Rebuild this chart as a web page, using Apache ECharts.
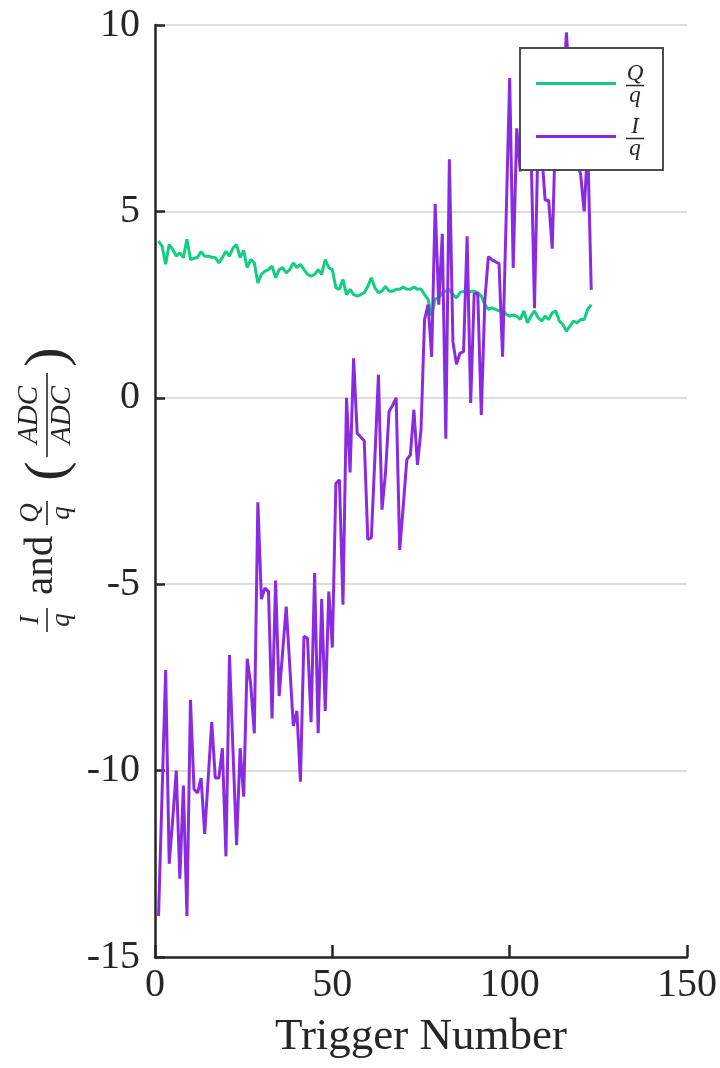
<!DOCTYPE html>
<html>
<head>
<meta charset="utf-8">
<script src="https://cdn.jsdelivr.net/npm/echarts@6/dist/echarts.min.js"></script>
<style>
  html, body { margin: 0; padding: 0; background: #fff; }
  #chart { width: 720px; height: 1068px; }
</style>
</head>
<body>
<div id="chart"></div>
<script>
// Per-trigger ratios (ADC/ADC), trigger numbers start at 1
const qOverQ = [
  4.20, 4.07, 3.58, 4.11, 3.98, 3.80, 3.89, 3.76, 4.25, 3.71,
  3.74, 3.77, 3.92, 3.80, 3.80, 3.77, 3.76, 3.62, 3.76, 3.93,
  3.80, 4.02, 4.11, 3.76, 3.95, 3.49, 3.71, 3.62, 3.08, 3.31,
  3.40, 3.44, 3.53, 3.22, 3.44, 3.49, 3.35, 3.44, 3.62, 3.49,
  3.58, 3.44, 3.31, 3.26, 3.31, 3.44, 3.31, 3.71, 3.49, 3.44,
  2.95, 2.91, 3.17, 2.77, 2.91, 2.77, 2.73, 2.77, 2.82, 2.99,
  3.22, 2.95, 2.82, 2.86, 2.99, 2.86, 2.86, 2.91, 2.91, 2.97,
  2.91, 2.91, 2.97, 2.91, 2.92, 2.77, 2.64, 2.20, 2.65, 2.68,
  2.82, 2.86, 2.91, 2.77, 2.68, 2.82, 2.86, 2.77, 2.86, 2.86,
  2.82, 2.73, 2.50, 2.37, 2.41, 2.37, 2.33, 2.37, 2.24, 2.19,
  2.22, 2.19, 2.10, 2.33, 2.01, 2.19, 2.33, 2.15, 2.06, 2.19,
  2.10, 2.28, 2.33, 2.06, 1.97, 1.79, 1.92, 2.06, 2.01, 2.10,
  2.10, 2.37, 2.50
];
const iOverQ = [
  -13.9, -10.6, -7.3, -12.5, -11.3, -10.0, -12.9, -10.4, -13.9, -8.1,
  -10.5, -10.6, -10.2, -11.7, -10.2, -8.7, -10.2, -10.2, -9.4, -12.3,
  -6.9, -9.5, -12.0, -9.4, -10.7, -7.0, -7.7, -9.0, -2.8, -5.4,
  -5.1, -5.2, -8.6, -4.9, -8.0, -6.8, -5.6, -7.2, -8.8, -8.4,
  -10.3, -6.4, -6.45, -8.7, -4.7, -9.0, -5.4, -8.4, -5.2, -6.7,
  -2.3, -2.2, -5.55, 0.0, -2.0, 1.06, -0.95, -1.05, -1.15, -3.8,
  -3.75, -1.6, 0.62, -3.0, -2.0, -0.37, -0.2, 0.0, -4.08, -2.9,
  -1.66, -1.53, -0.32, -1.8, -0.86, 2.1, 2.5, 1.1, 5.2, 2.5,
  4.4, -1.1, 6.4, 1.5, 0.9, 1.2, 1.24, 4.33, -0.14, 2.8,
  2.8, -0.46, 2.63, 3.79, 3.7, 3.65, 3.6, 1.1, 4.8, 8.58,
  3.48, 7.23, 6.07, 8.0, 9.4, 6.8, 2.4, 7.0, 6.6, 5.3,
  5.3, 4.0, 7.5, 6.8, 8.0, 9.8, 8.2, 7.0, 6.3, 6.0,
  5.0, 6.8, 2.9
];
const xTicks = [0, 50, 100, 150];
const yTicks = [-15, -10, -5, 0, 5, 10];
const firstTrigger = 1;

const SERIF = '"Liberation Serif", "DejaVu Serif", serif';
const INK = '#262626';
const GREEN = '#11cf80';
const PURPLE = '#8a2be2';

const toPairs = arr => arr.map((v, i) => [firstTrigger + i, v]);

const chart = echarts.init(document.getElementById('chart'), null, { renderer: 'canvas' });

// legend labels drawn as stacked fractions
const fracRich = {
  n: { fontFamily: SERIF, fontStyle: 'italic', fontSize: 23, lineHeight: 20, width: 28, align: 'center', color: INK },
  b: { fontSize: 1, lineHeight: 4, width: 18, height: 1.5, backgroundColor: INK, align: 'center' },
  d: { fontFamily: SERIF, fontStyle: 'italic', fontSize: 23, lineHeight: 16, width: 28, align: 'center', color: INK }
};

// vertical axis title built from stacked fractions
function frac(cx, num, den, barHalf, size) {
  return [
    { type: 'text', x: cx, y: -3, style: { text: num, font: 'italic ' + size + 'px ' + SERIF, fill: INK, align: 'center', verticalAlign: 'bottom' } },
    { type: 'line', shape: { x1: cx - barHalf, y1: 0, x2: cx + barHalf, y2: 0 }, style: { stroke: INK, lineWidth: 1.6 } },
    { type: 'text', x: cx, y: 1, style: { text: den, font: 'italic ' + size + 'px ' + SERIF, fill: INK, align: 'center', verticalAlign: 'top' } }
  ];
}

const yTitle = {
  type: 'group',
  x: 47,
  y: 495,
  rotation: Math.PI / 2,
  children: [].concat(
    frac(-125, 'I', 'q', 12, 27),
    [{ type: 'text', x: -100, y: -6, style: { text: 'and', font: '41px ' + SERIF, fill: INK, align: 'left', verticalAlign: 'middle' } }],
    frac(-18, 'Q', 'q', 12, 27),
    [{ type: 'text', x: 24, y: 2, style: { text: '(', font: '58px ' + SERIF, fill: INK, align: 'center', verticalAlign: 'middle' } }],
    frac(80, 'ADC', 'ADC', 42, 29),
    [{ type: 'text', x: 138, y: 2, style: { text: ')', font: '58px ' + SERIF, fill: INK, align: 'center', verticalAlign: 'middle' } }]
  )
};

chart.setOption({
  animation: false,
  backgroundColor: '#fff',
  grid: { left: 155, right: 32, top: 25, bottom: 111, containLabel: false },
  xAxis: {
    type: 'value',
    min: xTicks[0],
    max: xTicks[xTicks.length - 1],
    interval: xTicks[1] - xTicks[0],
    name: 'Trigger Number',
    nameLocation: 'middle',
    nameGap: 58,
    nameTextStyle: { fontFamily: SERIF, fontSize: 45, color: INK },
    axisLine: { show: true, onZero: false, lineStyle: { color: INK, width: 2.5 } },
    axisTick: { show: true, inside: true, length: 12, lineStyle: { color: INK, width: 2.5 } },
    axisLabel: { fontFamily: SERIF, fontSize: 40, color: INK, margin: 8 },
    splitLine: { show: false }
  },
  yAxis: {
    type: 'value',
    min: yTicks[0],
    max: yTicks[yTicks.length - 1],
    interval: yTicks[1] - yTicks[0],
    axisLine: { show: true, onZero: false, lineStyle: { color: INK, width: 2.5 } },
    axisTick: { show: true, inside: true, length: 10, lineStyle: { color: INK, width: 2.5 } },
    axisLabel: { fontFamily: SERIF, fontSize: 40, color: INK, margin: 15 },
    splitLine: { show: true, lineStyle: { color: '#dedede', width: 2 } }
  },
  legend: {
    orient: 'vertical',
    left: 520,
    top: 48,
    padding: [14, 14, 10, 16],
    itemGap: 8,
    itemWidth: 80,
    itemHeight: 3,
    itemStyle: { borderWidth: 0 },
    icon: 'rect',
    backgroundColor: '#fff',
    borderColor: '#4d4d4d',
    borderWidth: 2,
    borderRadius: 0,
    textStyle: { padding: [0, 0, 0, 0], rich: fracRich },
    formatter: name => name === 'Q/q' ? '{n|Q}\n{b| }\n{d|q}' : '{n|I}\n{b| }\n{d|q}'
  },
  graphic: [yTitle],
  series: [
    {
      name: 'Q/q',
      type: 'line',
      data: toPairs(qOverQ),
      showSymbol: false,
      symbol: 'none',
      lineStyle: { color: GREEN, width: 3 },
      itemStyle: { color: GREEN },
      z: 2
    },
    {
      name: 'I/q',
      type: 'line',
      data: toPairs(iOverQ),
      showSymbol: false,
      symbol: 'none',
      lineStyle: { color: PURPLE, width: 3 },
      itemStyle: { color: PURPLE },
      z: 3
    }
  ]
});
</script>
</body>
</html>
